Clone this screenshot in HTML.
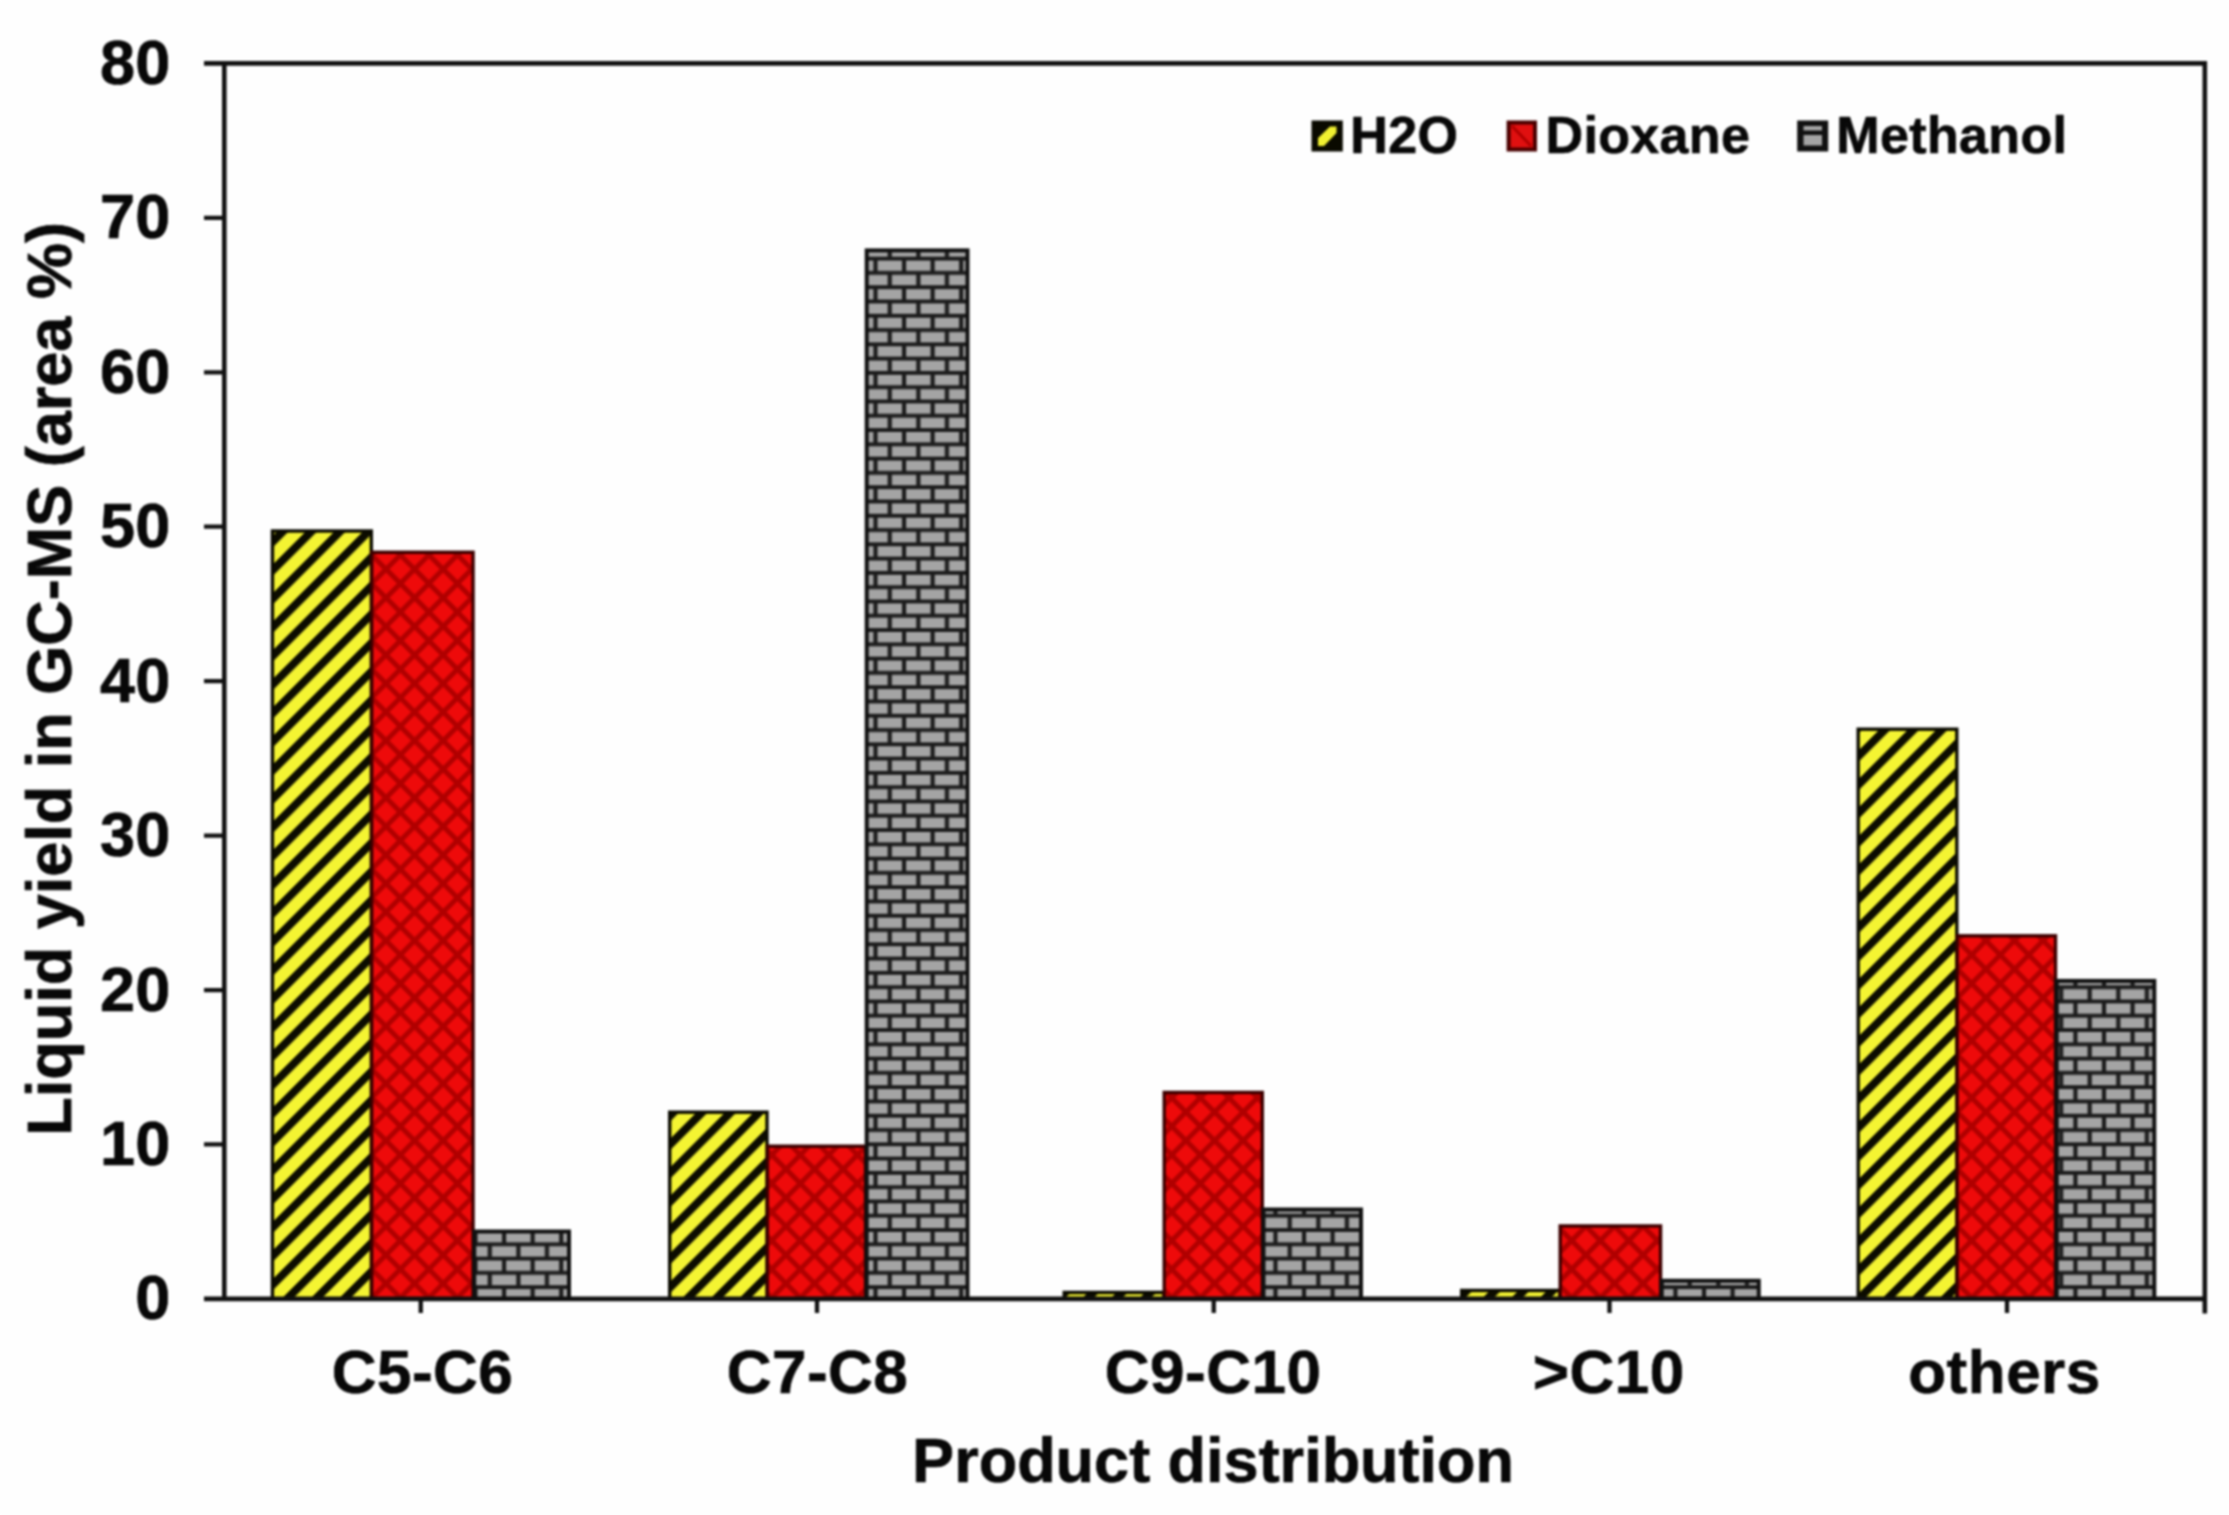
<!DOCTYPE html>
<html lang="en"><head><meta charset="utf-8"><title>Product distribution chart</title>
<style>html,body{margin:0;padding:0;background:#fff}body{width:2229px;height:1515px;overflow:hidden}svg{display:block;filter:blur(1.25px)}text{font-family:"Liberation Sans",sans-serif;font-weight:bold;fill:#080808;stroke:#080808;stroke-width:0.7px;stroke-linejoin:round}</style></head><body>
<svg width="2229" height="1515" viewBox="0 0 2229 1515">
<defs>
<pattern id="py" patternUnits="userSpaceOnUse" width="60" height="20.206" patternTransform="translate(14.30,0.00) rotate(-45.000) translate(0,-4.000)"><rect width="60" height="20.206" fill="#f4f432"/><rect width="60" height="8.00" fill="#0c0c00"/></pattern>
<pattern id="pr" patternUnits="userSpaceOnUse" width="28.57" height="28.57" patternTransform="translate(414.60,569.20)"><rect width="28.57" height="28.57" fill="#ee0a0a"/><path d="M-28.57 -28.57L57.15 57.15M-28.57 57.15L57.15 -28.57" stroke="#b00000" stroke-width="5.0" fill="none"/></pattern>
<pattern id="pg" patternUnits="userSpaceOnUse" width="28.57" height="28.57" patternTransform="translate(475.50,1230.00)"><rect width="28.57" height="28.57" fill="#a4a4a4"/><path d="M-1 0H29.57M-1 14.29H29.57M-1 28.57H29.57" stroke="#1c1c1c" stroke-width="3.9"/><path d="M0 0V14.29M28.57 0V14.29M14.29 14.29V28.57" stroke="#1c1c1c" stroke-width="4.2"/></pattern>
</defs>
<rect width="2229" height="1515" fill="#fefefe"/>
<g id="bars">
<rect x="272.45" y="531.00" width="98.85" height="767.90" fill="url(#py)" stroke="#0a0a00" stroke-width="3.4"/>
<rect x="371.70" y="552.30" width="101.35" height="746.60" fill="url(#pr)" stroke="#3c0000" stroke-width="3.4"/>
<rect x="474.25" y="1231.50" width="94.75" height="67.40" fill="url(#pg)" stroke="#111" stroke-width="4.0"/>
<rect x="669.70" y="1112.20" width="97.30" height="186.70" fill="url(#py)" stroke="#0a0a00" stroke-width="3.4"/>
<rect x="767.40" y="1146.20" width="98.10" height="152.70" fill="url(#pr)" stroke="#3c0000" stroke-width="3.4"/>
<rect x="866.70" y="250.40" width="100.80" height="1048.50" fill="url(#pg)" stroke="#111" stroke-width="4.0"/>
<rect x="1064.20" y="1292.45" width="99.60" height="6.45" fill="url(#py)" stroke="#0a0a00" stroke-width="3.4"/>
<rect x="1164.20" y="1092.45" width="98.10" height="206.45" fill="url(#pr)" stroke="#3c0000" stroke-width="3.4"/>
<rect x="1263.50" y="1209.50" width="97.50" height="89.40" fill="url(#pg)" stroke="#111" stroke-width="4.0"/>
<rect x="1461.70" y="1290.45" width="98.10" height="8.45" fill="url(#py)" stroke="#0a0a00" stroke-width="3.4"/>
<rect x="1560.20" y="1225.95" width="100.35" height="72.95" fill="url(#pr)" stroke="#3c0000" stroke-width="3.4"/>
<rect x="1661.75" y="1280.75" width="97.00" height="18.15" fill="url(#pg)" stroke="#111" stroke-width="4.0"/>
<rect x="1858.20" y="729.20" width="98.60" height="569.70" fill="url(#py)" stroke="#0a0a00" stroke-width="3.4"/>
<rect x="1957.20" y="935.80" width="98.30" height="363.10" fill="url(#pr)" stroke="#3c0000" stroke-width="3.4"/>
<rect x="2056.70" y="980.90" width="97.60" height="318.00" fill="url(#pg)" stroke="#111" stroke-width="4.0"/>
</g>
<g id="axes" stroke="#101010" stroke-width="4.6" fill="none">
<path d="M204.00 63.40H2204.80V1313.40"/>
<path d="M224.30 63.40V1298.90M204.00 1298.90H2204.80"/>
<path d="M204 1144.46H224.30M204 990.03H224.30M204 835.59H224.30M204 681.15H224.30M204 526.71H224.30M204 372.28H224.30M204 217.84H224.30M420.75 1298.90V1312.90M817.00 1298.90V1312.90M1213.75 1298.90V1312.90M1609.50 1298.90V1312.90M2007.00 1298.90V1312.90" stroke-width="4.3"/>
</g>
<g id="yticks" font-size="63" text-anchor="end">
<text x="170.2" y="1319.40">0</text>
<text x="170.2" y="1164.96">10</text>
<text x="170.2" y="1010.53">20</text>
<text x="170.2" y="856.09">30</text>
<text x="170.2" y="701.65">40</text>
<text x="170.2" y="547.21">50</text>
<text x="170.2" y="392.78">60</text>
<text x="170.2" y="238.34">70</text>
<text x="170.2" y="83.90">80</text>
</g>
<g id="xlabels" font-size="62" text-anchor="middle" letter-spacing="0.5">
<text x="422.50" y="1393">C5-C6</text>
<text x="817.50" y="1393">C7-C8</text>
<text x="1213.10" y="1393">C9-C10</text>
<text x="1608.75" y="1393">&gt;C10</text>
<text x="2004.50" y="1393">others</text>
</g>
<text id="xtitle" x="1213.1" y="1481.5" font-size="63" text-anchor="middle">Product distribution</text>
<text id="ytitle" transform="translate(71,678.9) rotate(-90)" font-size="63" text-anchor="middle">Liquid yield in GC-MS (area %)</text>
<g id="legend" font-size="52" letter-spacing="0.35">
<rect x="1311.5" y="120.5" width="31.3" height="31" fill="#0a0a00"/><path d="M1318 146 L1318 138 L1330 126.5 L1336.5 126.5 L1336.5 133 L1324 146Z" fill="#f0f030"/>
<text x="1350.3" y="152.5">H2O</text>
<rect x="1506.6" y="120.5" width="30.4" height="31" fill="#4a0000"/><rect x="1510.6" y="124.5" width="22.4" height="23" fill="#e01010"/><path d="M1512 126 L1531 146" stroke="#b00000" stroke-width="3"/>
<text x="1545.5" y="152.5">Dioxane</text>
<rect x="1797.2" y="120.5" width="31" height="31" fill="#111"/><rect x="1803.5" y="126" width="18.5" height="4.5" fill="#a4a4a4"/><rect x="1803.5" y="135" width="18.5" height="10.5" fill="#a4a4a4"/>
<text x="1836.3" y="152.8">Methanol</text>
</g>
</svg></body></html>
